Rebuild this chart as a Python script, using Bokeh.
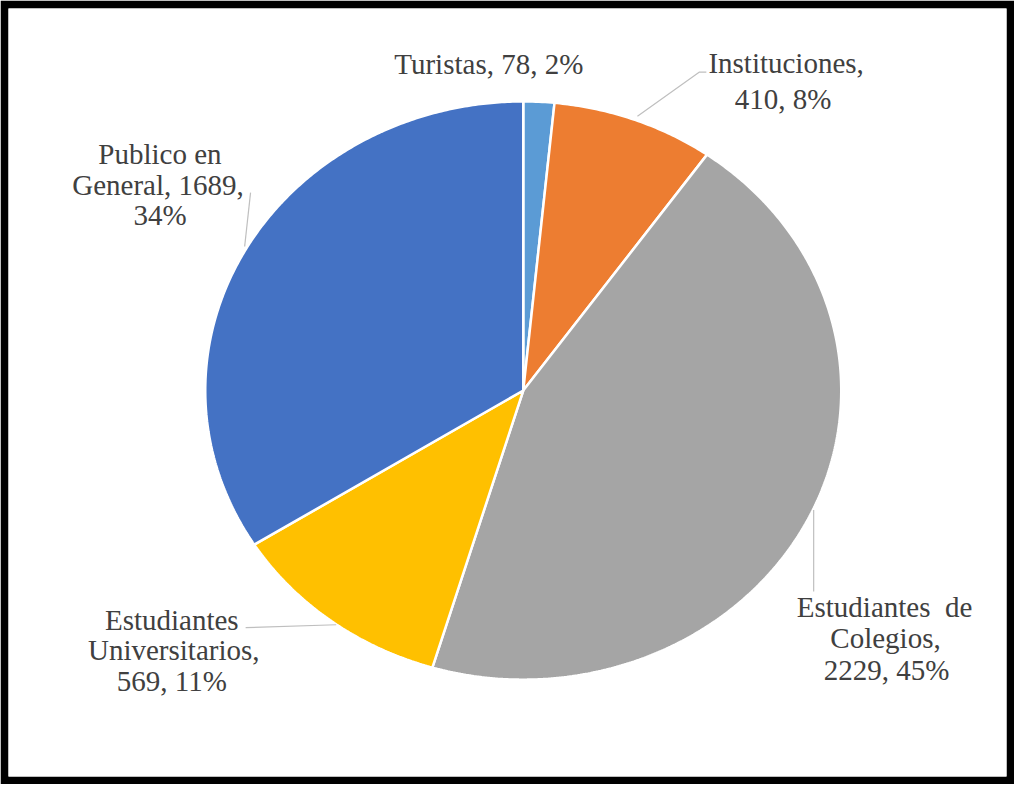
import numpy as np
from bokeh.plotting import figure
from bokeh.models import Range1d
from bokeh.core.properties import value
from bokeh.embed import file_html
from bokeh.resources import INLINE

# ---- data ----
categories = ["Turistas", "Instituciones", "Estudiantes de Colegios",
              "Estudiantes Universitarios", "Publico en General"]
counts = [78, 410, 2229, 569, 1689]
percents = ["2%", "8%", "45%", "11%", "34%"]
colors = ["#5B9BD5", "#ED7D31", "#A5A5A5", "#FFC000", "#4472C4"]
label_lines = [
    ["Turistas, 78, 2%"],
    ["Instituciones,", "410, 8%"],
    ["Estudiantes\u00a0\u00a0de", "Colegios,", "2229, 45%"],
    ["Estudiantes", "Universitarios,", "569, 11%"],
    ["Publico en", "General, 1689,", "34%"],
]

# ---- layout: data space = reference picture pixels (1030 x 800) ----
W, H = 1014, 784
B = 8
SX, SY = 1030.0 / W, 800.0 / H
CX, CY = 531, 398
RX, RY = 323, 295

p = figure(width=W, height=H, output_backend="svg", toolbar_location=None,
           x_range=Range1d(B * SX, (W - B) * SX),
           y_range=Range1d((H - B) * SY, B * SY),
           min_border=B, min_border_left=B, min_border_right=B,
           min_border_top=B, min_border_bottom=B)
p.axis.visible = False
p.grid.visible = False
p.outline_line_color = None
p.border_fill_color = "black"
p.background_fill_color = "white"

# ---- slices (clockwise from 12 o'clock) ----
total = float(sum(counts))
cum = np.concatenate([[0.0], np.cumsum(counts) / total])
xs, ys = [], []
for i in range(len(counts)):
    a0, a1 = cum[i] * 2 * np.pi, cum[i + 1] * 2 * np.pi
    t = np.linspace(a0, a1, max(8, int((a1 - a0) * 120)))
    xs.append([CX] + list(CX + RX * np.sin(t)) + [CX])
    ys.append([CY] + list(CY - RY * np.cos(t)) + [CY])
p.patches(xs, ys, fill_color=colors, line_color="white", line_width=2.5)

# ---- leader lines ----
lc = "#BFBFBF"
p.line([647, 710, 717], [118, 73, 73], line_color=lc, line_width=1.2)
p.line([248, 254], [251, 196], line_color=lc, line_width=1.2)
p.line([249, 341], [640, 637], line_color=lc, line_width=1.2)
p.line([826, 826], [520, 603], line_color=lc, line_width=1.2)

# ---- labels ----
label_pos = [
    [(496, 65)],
    [(798, 64), (795, 100)],
    [(898, 619), (899, 651), (900, 683)],
    [(174, 632), (176, 663), (174, 694)],
    [(162, 157), (160, 188), (162, 219)],
]
tx, ty, tt = [], [], []
for pos, lines in zip(label_pos, label_lines):
    for (x0, y0), s in zip(pos, lines):
        tx.append(x0)
        ty.append(y0)
        tt.append(s)
p.text(tx, ty, text=tt, text_align="center", text_baseline="middle",
       text_font=value("Liberation Serif"), text_font_size="29px",
       text_color="#404040")

open("out.html", "w").write(file_html(p, INLINE))
